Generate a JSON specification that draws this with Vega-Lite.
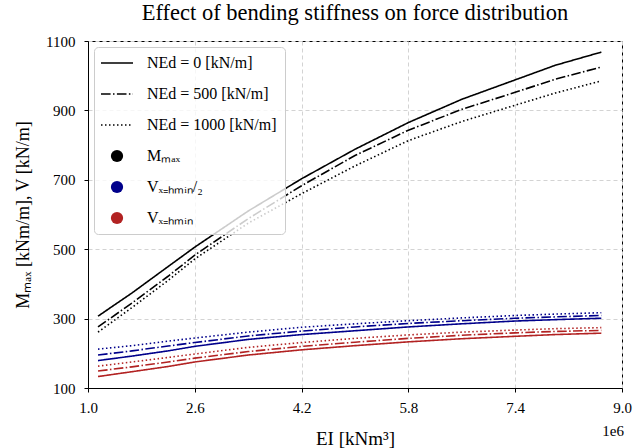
{
"$schema": "https://vega.github.io/schema/vega-lite/v6.json",
"width": 534, "height": 347,
"autosize": "none",
"padding": {"left": 88, "top": 41, "right": 16, "bottom": 60},
"background": "white",
"title": {"text": "Effect of bending stiffness on force distribution", "font": "Liberation Serif", "fontSize": 22.5, "fontWeight": "normal", "color": "black", "offset": 10},
"config": {
 "font": "Liberation Serif",
 "view": {"stroke": "black", "strokeWidth": 1},
 "axis": {"labelFont": "Liberation Serif", "titleFont": "Liberation Serif", "labelFontSize": 15, "titleFontSize": 18, "titleFontWeight": "normal", "labelColor": "black", "titleColor": "black", "domainColor": "black", "tickColor": "black", "tickSize": 4, "gridColor": "#d3d3d3", "gridDash": [4, 3], "labelFlush": false, "labelOverlap": false},
 "legend": {"labelFont": "Liberation Serif"}
},
"data": {"values": [
{"EI":1150000,"v":307,"q":"M","N":"0"},{"EI":1660000,"v":374,"q":"M","N":"0"},{"EI":2200000,"v":450,"q":"M","N":"0"},{"EI":2600000,"v":506,"q":"M","N":"0"},{"EI":3400000,"v":610,"q":"M","N":"0"},{"EI":4200000,"v":703,"q":"M","N":"0"},{"EI":5000000,"v":788,"q":"M","N":"0"},{"EI":5800000,"v":865,"q":"M","N":"0"},{"EI":6600000,"v":932,"q":"M","N":"0"},{"EI":7400000,"v":988,"q":"M","N":"0"},{"EI":8000000,"v":1030,"q":"M","N":"0"},{"EI":8690000,"v":1068,"q":"M","N":"0"},
{"EI":1150000,"v":276,"q":"M","N":"500"},{"EI":1660000,"v":345,"q":"M","N":"500"},{"EI":2200000,"v":422,"q":"M","N":"500"},{"EI":2600000,"v":483,"q":"M","N":"500"},{"EI":3400000,"v":588,"q":"M","N":"500"},{"EI":4200000,"v":683,"q":"M","N":"500"},{"EI":5000000,"v":770,"q":"M","N":"500"},{"EI":5800000,"v":843,"q":"M","N":"500"},{"EI":6600000,"v":903,"q":"M","N":"500"},{"EI":7400000,"v":952,"q":"M","N":"500"},{"EI":8000000,"v":990,"q":"M","N":"500"},{"EI":8690000,"v":1025,"q":"M","N":"500"},
{"EI":1150000,"v":261,"q":"M","N":"1000"},{"EI":1660000,"v":332,"q":"M","N":"1000"},{"EI":2200000,"v":410,"q":"M","N":"1000"},{"EI":2600000,"v":472,"q":"M","N":"1000"},{"EI":3400000,"v":575,"q":"M","N":"1000"},{"EI":4200000,"v":660,"q":"M","N":"1000"},{"EI":5000000,"v":740,"q":"M","N":"1000"},{"EI":5800000,"v":813,"q":"M","N":"1000"},{"EI":6600000,"v":868,"q":"M","N":"1000"},{"EI":7400000,"v":915,"q":"M","N":"1000"},{"EI":8000000,"v":950,"q":"M","N":"1000"},{"EI":8690000,"v":985,"q":"M","N":"1000"},
{"EI":1150000,"v":179,"q":"Vh2","N":"0"},{"EI":1660000,"v":192,"q":"Vh2","N":"0"},{"EI":2200000,"v":207,"q":"Vh2","N":"0"},{"EI":2600000,"v":220,"q":"Vh2","N":"0"},{"EI":3400000,"v":240,"q":"Vh2","N":"0"},{"EI":4200000,"v":254,"q":"Vh2","N":"0"},{"EI":5000000,"v":265,"q":"Vh2","N":"0"},{"EI":5800000,"v":276,"q":"Vh2","N":"0"},{"EI":6600000,"v":285,"q":"Vh2","N":"0"},{"EI":7400000,"v":293,"q":"Vh2","N":"0"},{"EI":8000000,"v":297,"q":"Vh2","N":"0"},{"EI":8690000,"v":301,"q":"Vh2","N":"0"},
{"EI":1150000,"v":195,"q":"Vh2","N":"500"},{"EI":1660000,"v":207,"q":"Vh2","N":"500"},{"EI":2200000,"v":221,"q":"Vh2","N":"500"},{"EI":2600000,"v":231,"q":"Vh2","N":"500"},{"EI":3400000,"v":250,"q":"Vh2","N":"500"},{"EI":4200000,"v":264,"q":"Vh2","N":"500"},{"EI":5000000,"v":276,"q":"Vh2","N":"500"},{"EI":5800000,"v":286,"q":"Vh2","N":"500"},{"EI":6600000,"v":294,"q":"Vh2","N":"500"},{"EI":7400000,"v":301,"q":"Vh2","N":"500"},{"EI":8000000,"v":305,"q":"Vh2","N":"500"},{"EI":8690000,"v":309,"q":"Vh2","N":"500"},
{"EI":1150000,"v":212,"q":"Vh2","N":"1000"},{"EI":1660000,"v":222,"q":"Vh2","N":"1000"},{"EI":2200000,"v":235,"q":"Vh2","N":"1000"},{"EI":2600000,"v":244,"q":"Vh2","N":"1000"},{"EI":3400000,"v":261,"q":"Vh2","N":"1000"},{"EI":4200000,"v":275,"q":"Vh2","N":"1000"},{"EI":5000000,"v":285,"q":"Vh2","N":"1000"},{"EI":5800000,"v":294,"q":"Vh2","N":"1000"},{"EI":6600000,"v":302,"q":"Vh2","N":"1000"},{"EI":7400000,"v":309,"q":"Vh2","N":"1000"},{"EI":8000000,"v":313,"q":"Vh2","N":"1000"},{"EI":8690000,"v":317,"q":"Vh2","N":"1000"},
{"EI":1150000,"v":133,"q":"Vh","N":"0"},{"EI":1660000,"v":147,"q":"Vh","N":"0"},{"EI":2200000,"v":162,"q":"Vh","N":"0"},{"EI":2600000,"v":175,"q":"Vh","N":"0"},{"EI":3400000,"v":195,"q":"Vh","N":"0"},{"EI":4200000,"v":210,"q":"Vh","N":"0"},{"EI":5000000,"v":222,"q":"Vh","N":"0"},{"EI":5800000,"v":233,"q":"Vh","N":"0"},{"EI":6600000,"v":242,"q":"Vh","N":"0"},{"EI":7400000,"v":249,"q":"Vh","N":"0"},{"EI":8000000,"v":254,"q":"Vh","N":"0"},{"EI":8690000,"v":258,"q":"Vh","N":"0"},
{"EI":1150000,"v":149,"q":"Vh","N":"500"},{"EI":1660000,"v":161,"q":"Vh","N":"500"},{"EI":2200000,"v":175,"q":"Vh","N":"500"},{"EI":2600000,"v":186,"q":"Vh","N":"500"},{"EI":3400000,"v":205,"q":"Vh","N":"500"},{"EI":4200000,"v":220,"q":"Vh","N":"500"},{"EI":5000000,"v":232,"q":"Vh","N":"500"},{"EI":5800000,"v":243,"q":"Vh","N":"500"},{"EI":6600000,"v":252,"q":"Vh","N":"500"},{"EI":7400000,"v":259,"q":"Vh","N":"500"},{"EI":8000000,"v":263,"q":"Vh","N":"500"},{"EI":8690000,"v":266,"q":"Vh","N":"500"},
{"EI":1150000,"v":163,"q":"Vh","N":"1000"},{"EI":1660000,"v":175,"q":"Vh","N":"1000"},{"EI":2200000,"v":188,"q":"Vh","N":"1000"},{"EI":2600000,"v":198,"q":"Vh","N":"1000"},{"EI":3400000,"v":217,"q":"Vh","N":"1000"},{"EI":4200000,"v":231,"q":"Vh","N":"1000"},{"EI":5000000,"v":243,"q":"Vh","N":"1000"},{"EI":5800000,"v":253,"q":"Vh","N":"1000"},{"EI":6600000,"v":261,"q":"Vh","N":"1000"},{"EI":7400000,"v":267,"q":"Vh","N":"1000"},{"EI":8000000,"v":271,"q":"Vh","N":"1000"},{"EI":8690000,"v":274,"q":"Vh","N":"1000"}
]},
"layer": [
 {
  "mark": {"type": "line", "strokeWidth": 1.6, "clip": true},
  "encoding": {
   "x": {"field": "EI", "type": "quantitative", "scale": {"domain": [1000000, 9000000], "nice": false, "zero": false},
         "axis": {"values": [1000000, 2600000, 4200000, 5800000, 7400000, 9000000], "labelExpr": "format(datum.value/1000000, '.1f')", "title": "EI [kNm³]", "titleFontSize": 19, "labelPadding": 8, "titlePadding": 14}},
   "y": {"field": "v", "type": "quantitative", "scale": {"domain": [100, 1100], "nice": false, "zero": false},
         "axis": {"values": [100, 300, 500, 700, 900, 1100], "format": "d", "title": "Mₘₐₓ [kNm/m],  V [kN/m]", "labelPadding": 9, "titlePadding": 13}},
   "color": {"field": "q", "type": "nominal", "scale": {"domain": ["M", "Vh2", "Vh"], "range": ["#000000", "#00008b", "#b22222"]}, "legend": null},
   "strokeDash": {"field": "N", "type": "nominal",
     "scale": {"domain": ["0", "500", "1000", "M", "Vh2", "Vh"], "range": [[1, 0], [9.6, 2.4, 1.5, 2.4], [1.5, 2.5], [1, 0], [1, 0], [1, 0]]},
     "legend": {
       "title": null, "orient": "top-left", "offset": 6,
       "fillColor": "rgba(255,255,255,0.8)", "strokeColor": "#cccccc", "cornerRadius": 4, "padding": 8,
       "symbolType": "stroke", "symbolSize": 1024, "symbolStrokeWidth": 1.5, "symbolStrokeColor": "black", "symbolOffset": 7,
       "labelFont": "Liberation Serif", "labelFontSize": 16, "labelColor": "black", "labelOffset": 22, "rowPadding": 15, "labelLimit": 300,
       "labelExpr": "datum.value == '0' ? 'NEd = 0 [kN/m]' : datum.value == '500' ? 'NEd = 500 [kN/m]' : datum.value == '1000' ? 'NEd = 1000 [kN/m]' : datum.value == 'M' ? 'Mₘₐₓ' : datum.value == 'Vh2' ? 'Vₓ₌ₕₘᵢₙ/₂' : 'Vₓ₌ₕₘᵢₙ'",
       "encode": {"symbols": {"update": {
          "shape": {"signal": "indexof(['M','Vh2','Vh'], datum.value) >= 0 ? 'circle' : 'stroke'"},
          "size": {"signal": "indexof(['M','Vh2','Vh'], datum.value) >= 0 ? 150 : 1024"},
          "fill": {"signal": "datum.value == 'M' ? '#000000' : datum.value == 'Vh2' ? '#00008b' : datum.value == 'Vh' ? '#b22222' : 'transparent'"},
          "stroke": {"signal": "datum.value == 'M' ? '#000000' : datum.value == 'Vh2' ? '#00008b' : datum.value == 'Vh' ? '#b22222' : '#000000'"},
          "strokeWidth": {"signal": "indexof(['M','Vh2','Vh'], datum.value) >= 0 ? 0 : 1.5"},
          "opacity": {"value": 1}
       }}}
     }}
  }
 },
 {
  "data": {"values": [{"label": "1e6"}]},
  "mark": {"type": "text", "align": "right", "baseline": "top", "dy": 36, "dx": 2, "font": "Liberation Serif", "fontSize": 15, "color": "black"},
  "encoding": {"x": {"datum": 9000000}, "y": {"datum": 100}, "text": {"field": "label"}}
 }
]
}
